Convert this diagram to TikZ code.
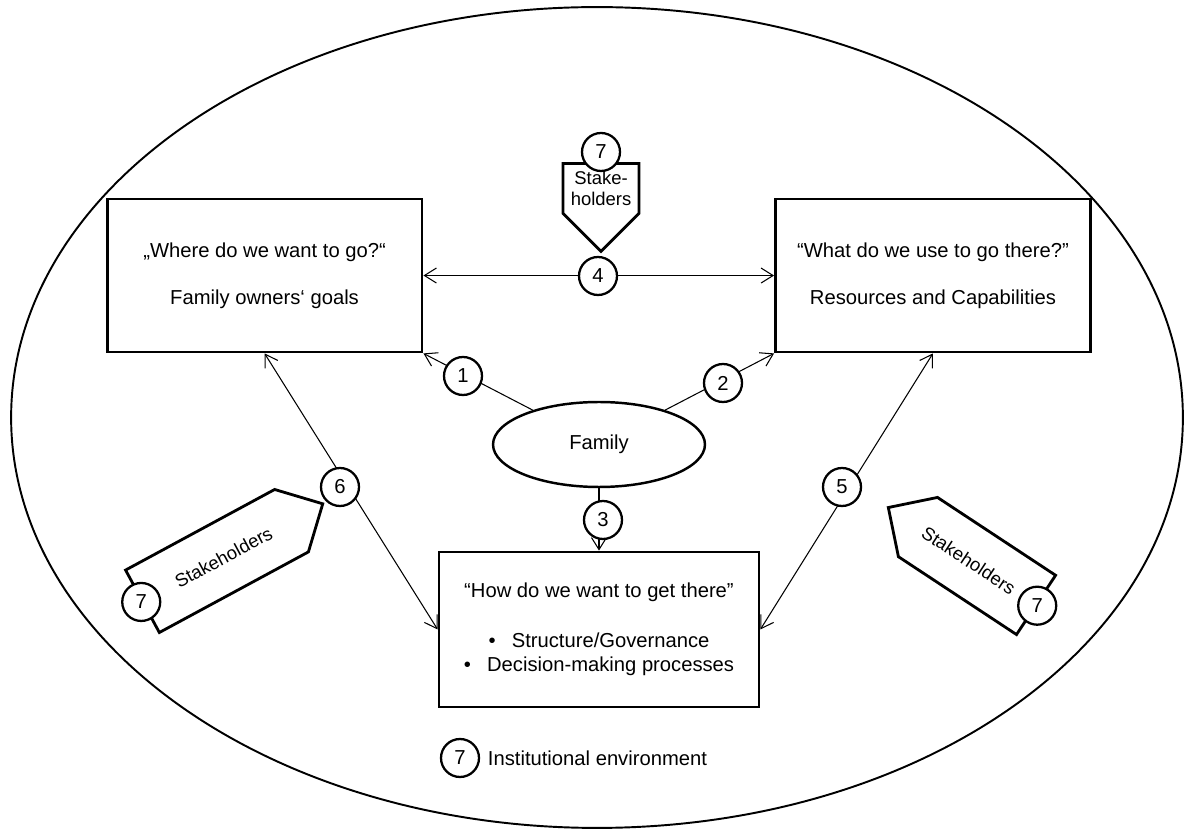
\documentclass[tikz,border=0pt]{standalone}
\usepackage{fontspec}
\setmainfont{Liberation Sans}
\usepackage{tikz}
\usetikzlibrary{shapes.geometric,shapes.symbols,arrows.meta,positioning}
\newcommand{\txtmain}{\fontsize{11.5}{13.8}\selectfont}
\newcommand{\txtsmall}{\fontsize{10.5}{12.4}\selectfont}
\tikzset{
    question/.style={
           rectangle,
           draw=black, line width=1.6pt,
           minimum width=6.3cm,
           minimum height=3.06cm,
           align=center,
           font=\txtmain
           },
    family/.style={
           ellipse,
           draw=black, line width=1.4pt,
           minimum width=4.24cm,
           minimum height=1.7cm,
           font=\txtmain
           },
    envir/.style={
           ellipse,
           draw=black, line width=1.1pt,
           minimum width=23.44cm,
           minimum height=16.42cm,
           inner sep=0pt
           },
    num/.style={
           circle,
           draw=black, line width=1.3pt,
           fill=white,
           minimum size=0.76cm,
           inner sep=0pt,
           font=\txtmain
           },
    stake/.style={
           signal,
           draw=black, line width=1.6pt,
           fill=white,
           align=center,
           inner sep=1pt,
           font=\txtsmall
           },
    link/.style={
           line width=0.6pt
           }
}

\begin{document}
\begin{tikzpicture}[x=0.02cm, y=-0.02cm, >={Straight Barb[length=2.4mm,width=3mm]}, on grid]
   \useasboundingbox (0,0) rectangle (1187,830);
   \node[envir] (env) at (597,417.5) {};

   \node[family] (fam) at (599,444.5) {Family};
   \node[question] (goals) [above left=3.38cm and 6.69cm of fam] {„Where do we want to go?“\\[13pt]Family owners‘ goals};
   \node[question] (res) [right=13.37cm of goals] {“What do we use to go there?”\\[13pt]Resources and Capabilities};
   \node[question, minimum width=6.4cm, minimum height=3.1cm] (how) [below=3.7cm of fam]
        {“How do we want to get there”\\[14.7pt]•\hspace{0.8em}Structure/Governance\\•\hspace{0.8em}Decision-making processes};

   \path[link]
    (fam)         edge[->]  (goals.south east)
    (fam)         edge[->]  (res.south west)
    (fam)         edge[->]  (how)
    (goals)       edge[<->] (res)
    (res.south)   edge[<->] (how.east)
    (goals.south) edge[<->] (how.west)
    ;

   % stakeholders
   \node[stake, signal to=south, minimum width=1.52cm, minimum height=1.64cm] (stktop) at (601,188.5) {Stake-\\holders};
   \node[stake, signal to=east, rotate=28.4, minimum width=4.1cm, minimum height=1.42cm] (stkleft) at (217,561) {\hspace*{0.3cm}Stakeholders};
   \node[stake, signal to=west, rotate=-33.4, minimum width=3.54cm, minimum height=1.42cm] (stkright) at (977,566) {Stakeholders\hspace*{0.4cm}};
   \node[num] (n7top) at (601,152) {7};
   \node[num] (n7left) at (stkleft.west) {7};
   \node[num] (n7right) at (stkright.east) {7};

   \node[num] (n1) at (463,376) {1};
   \node[num] (n2) at (723,383) {2};
   \node[num] (n3) at (603,520) {3};
   \node[num] (n4) at (598,276) {4};
   \node[num] (n5) at (842,487) {5};
   \node[num] (n6) at (340,487) {6};

   \node[num] (n7env) at (460,758) {7};
   \node[font=\txtmain] (inst) [right=2.75cm of n7env] {Institutional environment};
\end{tikzpicture}
\end{document}
